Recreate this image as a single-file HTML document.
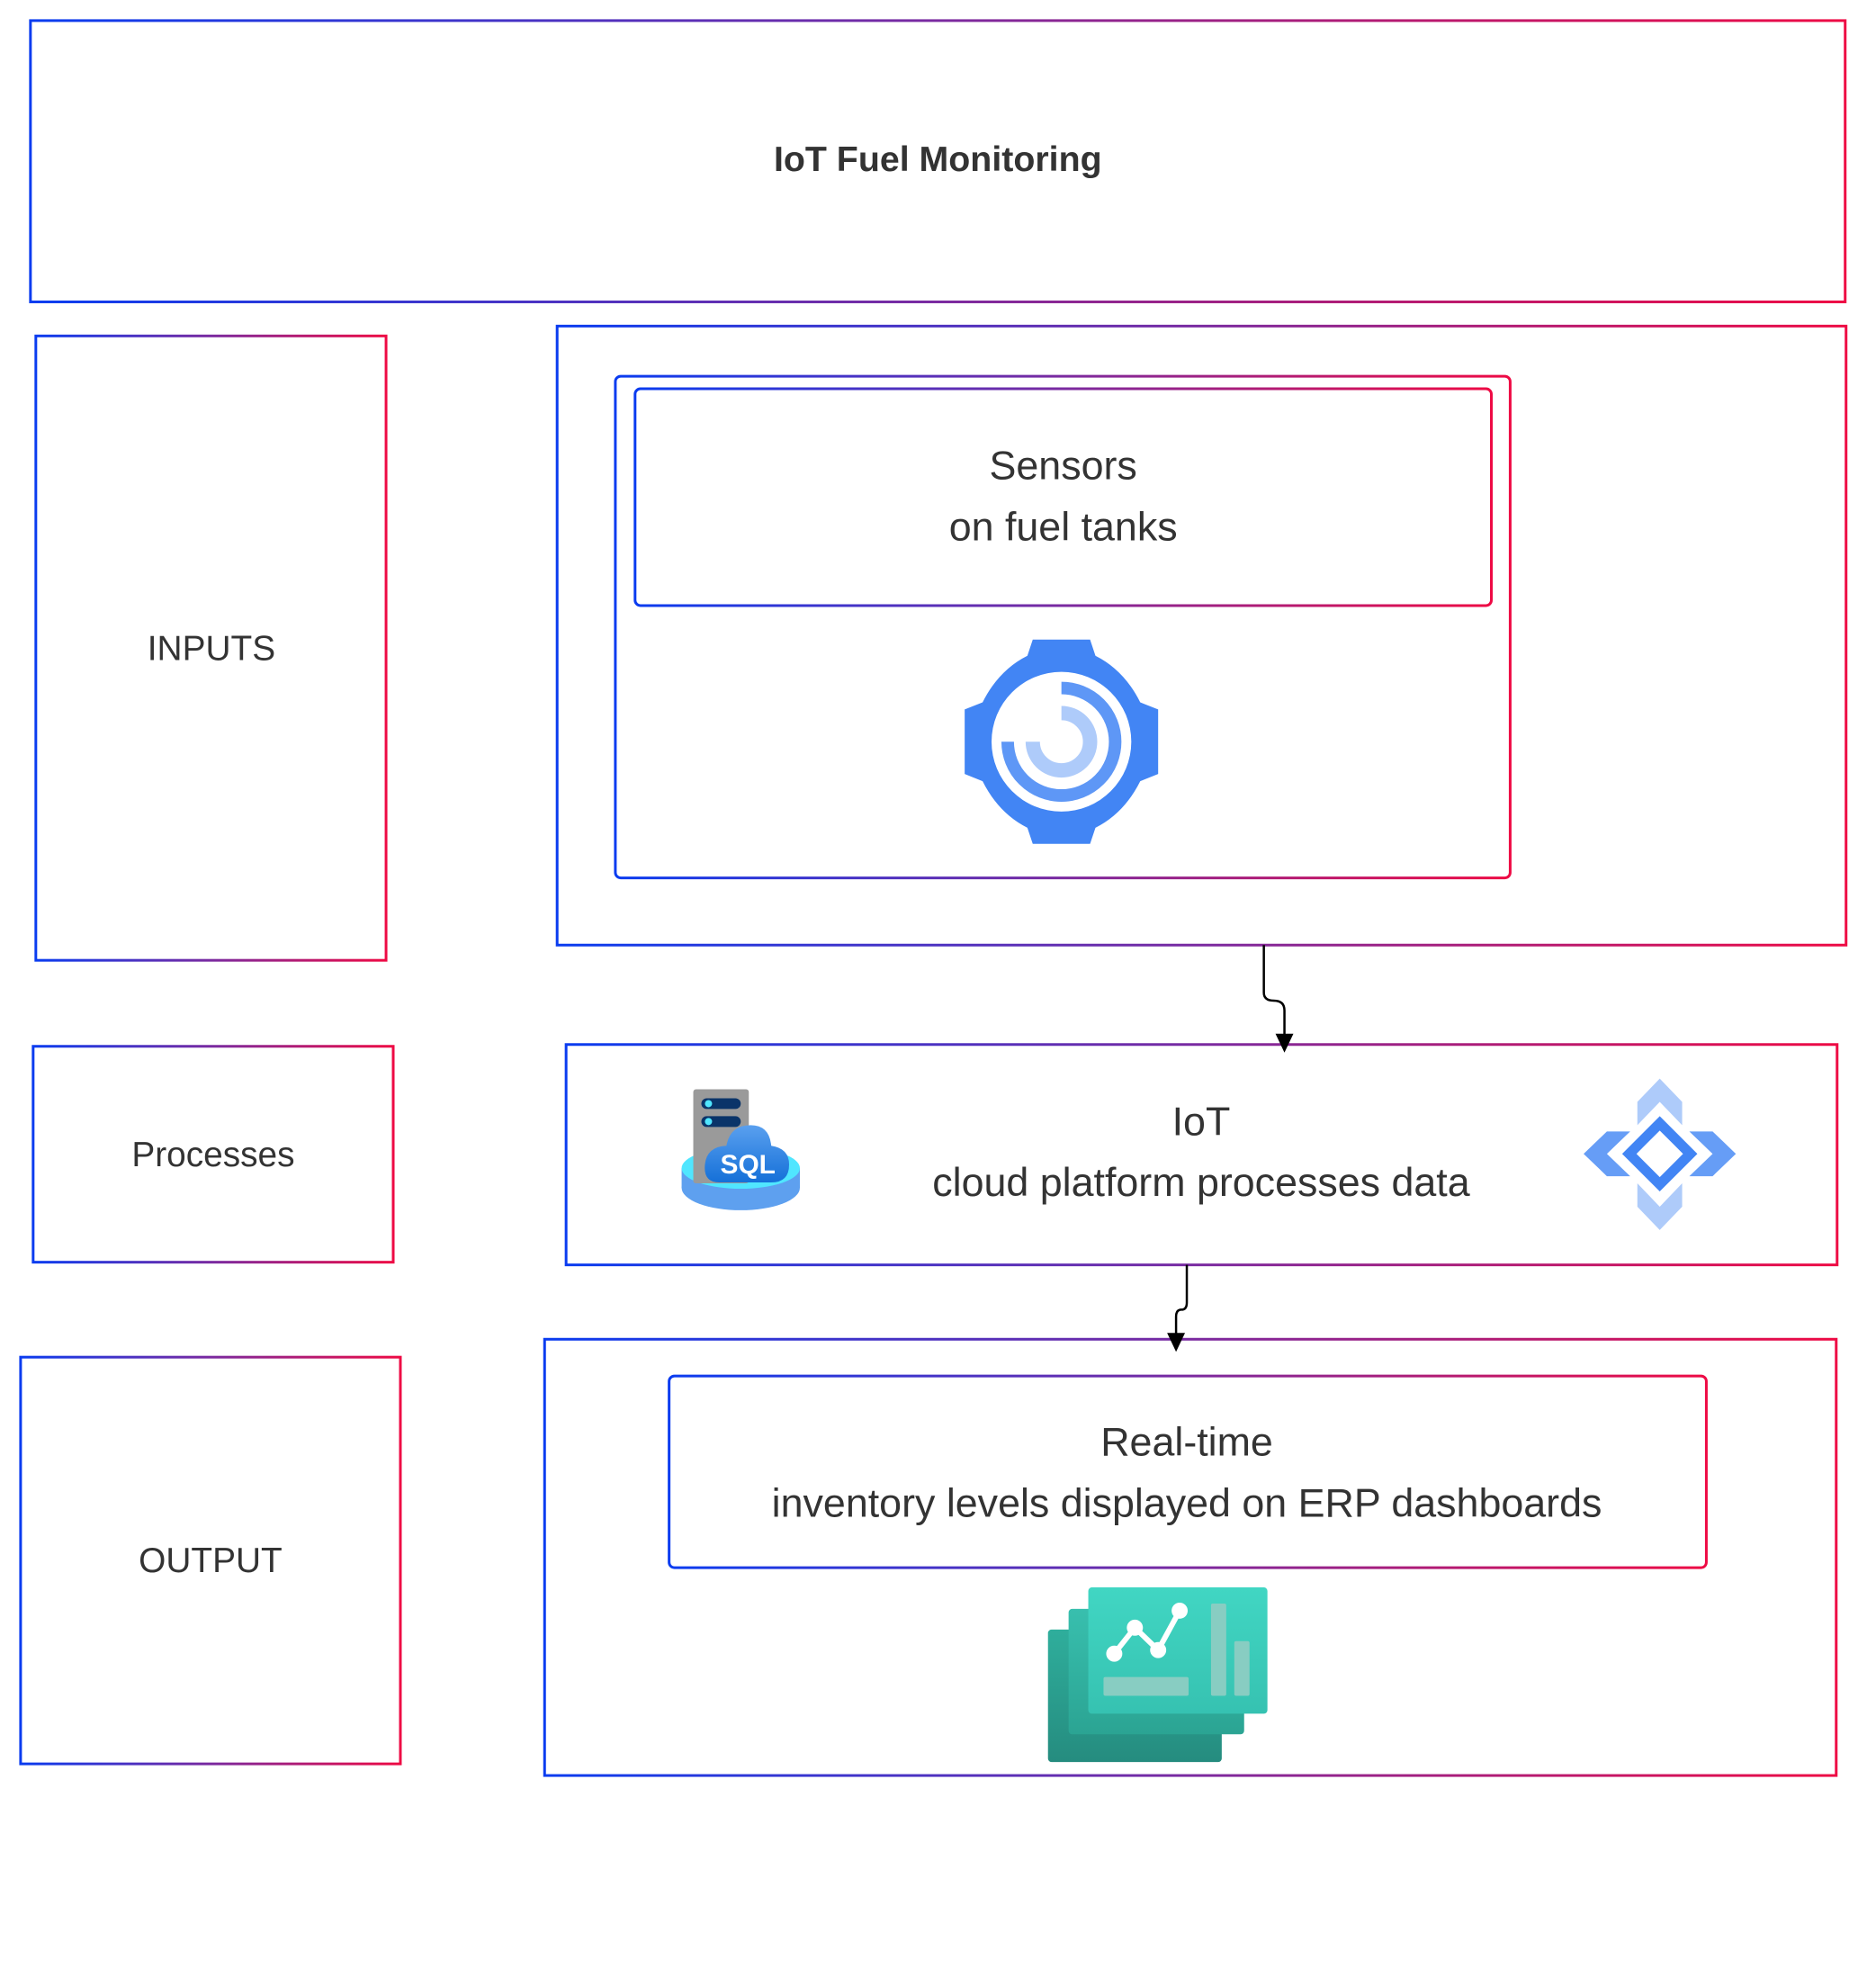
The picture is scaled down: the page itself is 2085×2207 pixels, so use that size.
<!DOCTYPE html>
<html><head><meta charset="utf-8"><style>
html,body{margin:0;padding:0;background:#fff;}
svg{display:block;}
text{font-family:"Liberation Sans",sans-serif;fill:#333;}
</style></head><body>
<svg width="2085" height="2207" viewBox="0 0 2085 2207" xmlns="http://www.w3.org/2000/svg">
<defs>
<linearGradient id="g" x1="0" y1="0" x2="1" y2="0">
<stop offset="0" stop-color="#0a3cf0"/><stop offset="0.5" stop-color="#7a2aa0"/><stop offset="1" stop-color="#ee0a44"/>
</linearGradient>
<linearGradient id="t1" x1="0" y1="0" x2="0" y2="1"><stop offset="0" stop-color="#41d6c3"/><stop offset="1" stop-color="#36c2b1"/></linearGradient>
<linearGradient id="t2" x1="0" y1="0" x2="0" y2="1"><stop offset="0" stop-color="#38bfae"/><stop offset="1" stop-color="#2ba493"/></linearGradient>
<linearGradient id="t3" x1="0" y1="0" x2="0" y2="1"><stop offset="0" stop-color="#2fae9c"/><stop offset="1" stop-color="#258c7f"/></linearGradient>
<linearGradient id="cl" x1="0" y1="0" x2="0" y2="1"><stop offset="0" stop-color="#5aa0ef"/><stop offset="1" stop-color="#1570d8"/></linearGradient>
</defs>
<g transform="scale(0.9955)">
<g fill="none" stroke="url(#g)" stroke-width="3">
<rect x="34" y="23" width="2026" height="314"/>
<rect x="40" y="375" width="391" height="697"/>
<rect x="622" y="364" width="1439" height="691"/>
<rect x="687" y="420" width="999" height="560" rx="6"/>
<rect x="709" y="434" width="956" height="242" rx="6"/>
<rect x="37" y="1168" width="402" height="241"/>
<rect x="632" y="1166" width="1419" height="246"/>
<rect x="23" y="1515" width="424" height="454"/>
<rect x="608" y="1495" width="1442" height="487"/>
<rect x="747" y="1536" width="1158" height="214" rx="6"/>
</g>
<text x="1047" y="191" font-size="39.5" font-weight="bold" text-anchor="middle">IoT Fuel Monitoring</text>
<text x="236" y="737" font-size="39" text-anchor="middle">INPUTS</text>
<text x="238" y="1302" font-size="39" text-anchor="middle">Processes</text>
<text x="235" y="1755" font-size="39" text-anchor="middle">OUTPUT</text>
<text x="1187" y="535" font-size="45" text-anchor="middle">Sensors</text>
<text x="1187" y="603" font-size="45" text-anchor="middle">on fuel tanks</text>
<text x="1341" y="1267" font-size="45" text-anchor="middle">IoT</text>
<text x="1341" y="1335" font-size="45" text-anchor="middle">cloud platform processes data</text>
<text x="1325" y="1625" font-size="45" text-anchor="middle">Real-time</text>
<text x="1325" y="1693" font-size="45" text-anchor="middle">inventory levels displayed on ERP dashboards</text>
<path d="M1411 1055 V1108 Q1411 1117 1422 1117 Q1434 1117 1434 1128 V1158" fill="none" stroke="#000" stroke-width="2.5"/>
<path d="M1424 1154 L1444 1154 L1434 1175 Z" fill="#000"/>
<path d="M1325 1412 V1454 Q1325 1462 1319 1462 Q1313 1462 1313 1470 V1490" fill="none" stroke="#000" stroke-width="2.5"/>
<path d="M1303 1488 L1323 1488 L1313 1509 Z" fill="#000"/>
<g transform="translate(1185,828)">
<path d="M-32 -114 H32 L38 -96 Q70 -80 88 -44 L108 -36 V36 L88 44 Q70 80 38 96 L32 114 H-32 L-38 96 Q-70 80 -88 44 L-108 36 V-36 L-88 -44 Q-70 -80 -38 -96 Z" fill="#4285f4"/>
<circle r="78" fill="#fff"/>
<path d="M0 -60 A60 60 0 1 1 -60 0" fill="none" stroke="#4285f4" stroke-width="14" opacity="0.85"/>
<path d="M0 -32 A32 32 0 1 1 -32 0" fill="none" stroke="#aecbfa" stroke-width="16"/>
</g>
<g transform="translate(3,4)">
<ellipse cx="824" cy="1322" rx="66" ry="25" fill="#5ea0ef"/>
<rect x="758" y="1300" width="132" height="22" fill="#5ea0ef"/>
<ellipse cx="824" cy="1300" rx="66" ry="23" fill="#50e6ff"/>
<rect x="771" y="1212" width="62" height="105" rx="3" fill="#9a9a9a"/>
<rect x="780" y="1222" width="44" height="12" rx="6" fill="#0a3469"/>
<rect x="780" y="1242" width="44" height="12" rx="6" fill="#0a3469"/>
<circle cx="788" cy="1228" r="4" fill="#50e6ff"/><circle cx="788" cy="1248" r="4" fill="#50e6ff"/>
<path d="M800 1316 Q782 1316 784 1296 Q786 1276 808 1275 Q812 1252 835 1252 Q856 1252 858 1275 Q878 1278 878 1296 Q878 1316 858 1316 Z" fill="url(#cl)"/>
<text x="832" y="1306" font-size="30" font-weight="bold" text-anchor="middle" style="fill:#fff">SQL</text>
</g>
<g fill="#aecbfa">
<path d="M1853 1204 L1878 1230 V1256 L1853 1230 L1828 1256 V1230 Z"/>
<path d="M1853 1373 L1878 1347 V1321 L1853 1347 L1828 1321 V1347 Z"/>
<path d="M1768 1288 L1794 1263 H1820 L1794 1288 L1820 1313 H1794 Z" fill="#669df6"/>
<path d="M1938 1288 L1912 1263 H1886 L1912 1288 L1886 1313 H1912 Z" fill="#669df6"/>
<path d="M1853 1246 L1895 1288 L1853 1330 L1811 1288 Z M1853 1262 L1827 1288 L1853 1314 L1879 1288 Z" fill="#4285f4" fill-rule="evenodd"/>
</g>
<g transform="translate(2,7)">
<rect x="1168" y="1812" width="194" height="148" rx="4" fill="url(#t3)"/>
<rect x="1191" y="1789" width="196" height="140" rx="4" fill="url(#t2)"/>
<rect x="1213" y="1765" width="200" height="141" rx="4" fill="url(#t1)"/>
<rect x="1230" y="1865" width="95" height="21" rx="2" fill="#88cdc2"/>
<rect x="1350" y="1783" width="17" height="103" rx="2" fill="#88cdc2"/>
<rect x="1376" y="1825" width="17" height="61" rx="2" fill="#88cdc2"/>
<polyline points="1242,1839 1265,1810 1291,1835 1315,1791" fill="none" stroke="#fff" stroke-width="6"/>
<g fill="#fff"><circle cx="1242" cy="1839" r="9"/><circle cx="1265" cy="1810" r="9"/><circle cx="1291" cy="1835" r="9"/><circle cx="1315" cy="1791" r="9"/></g>
</g>
</g>
</svg>
</body></html>
